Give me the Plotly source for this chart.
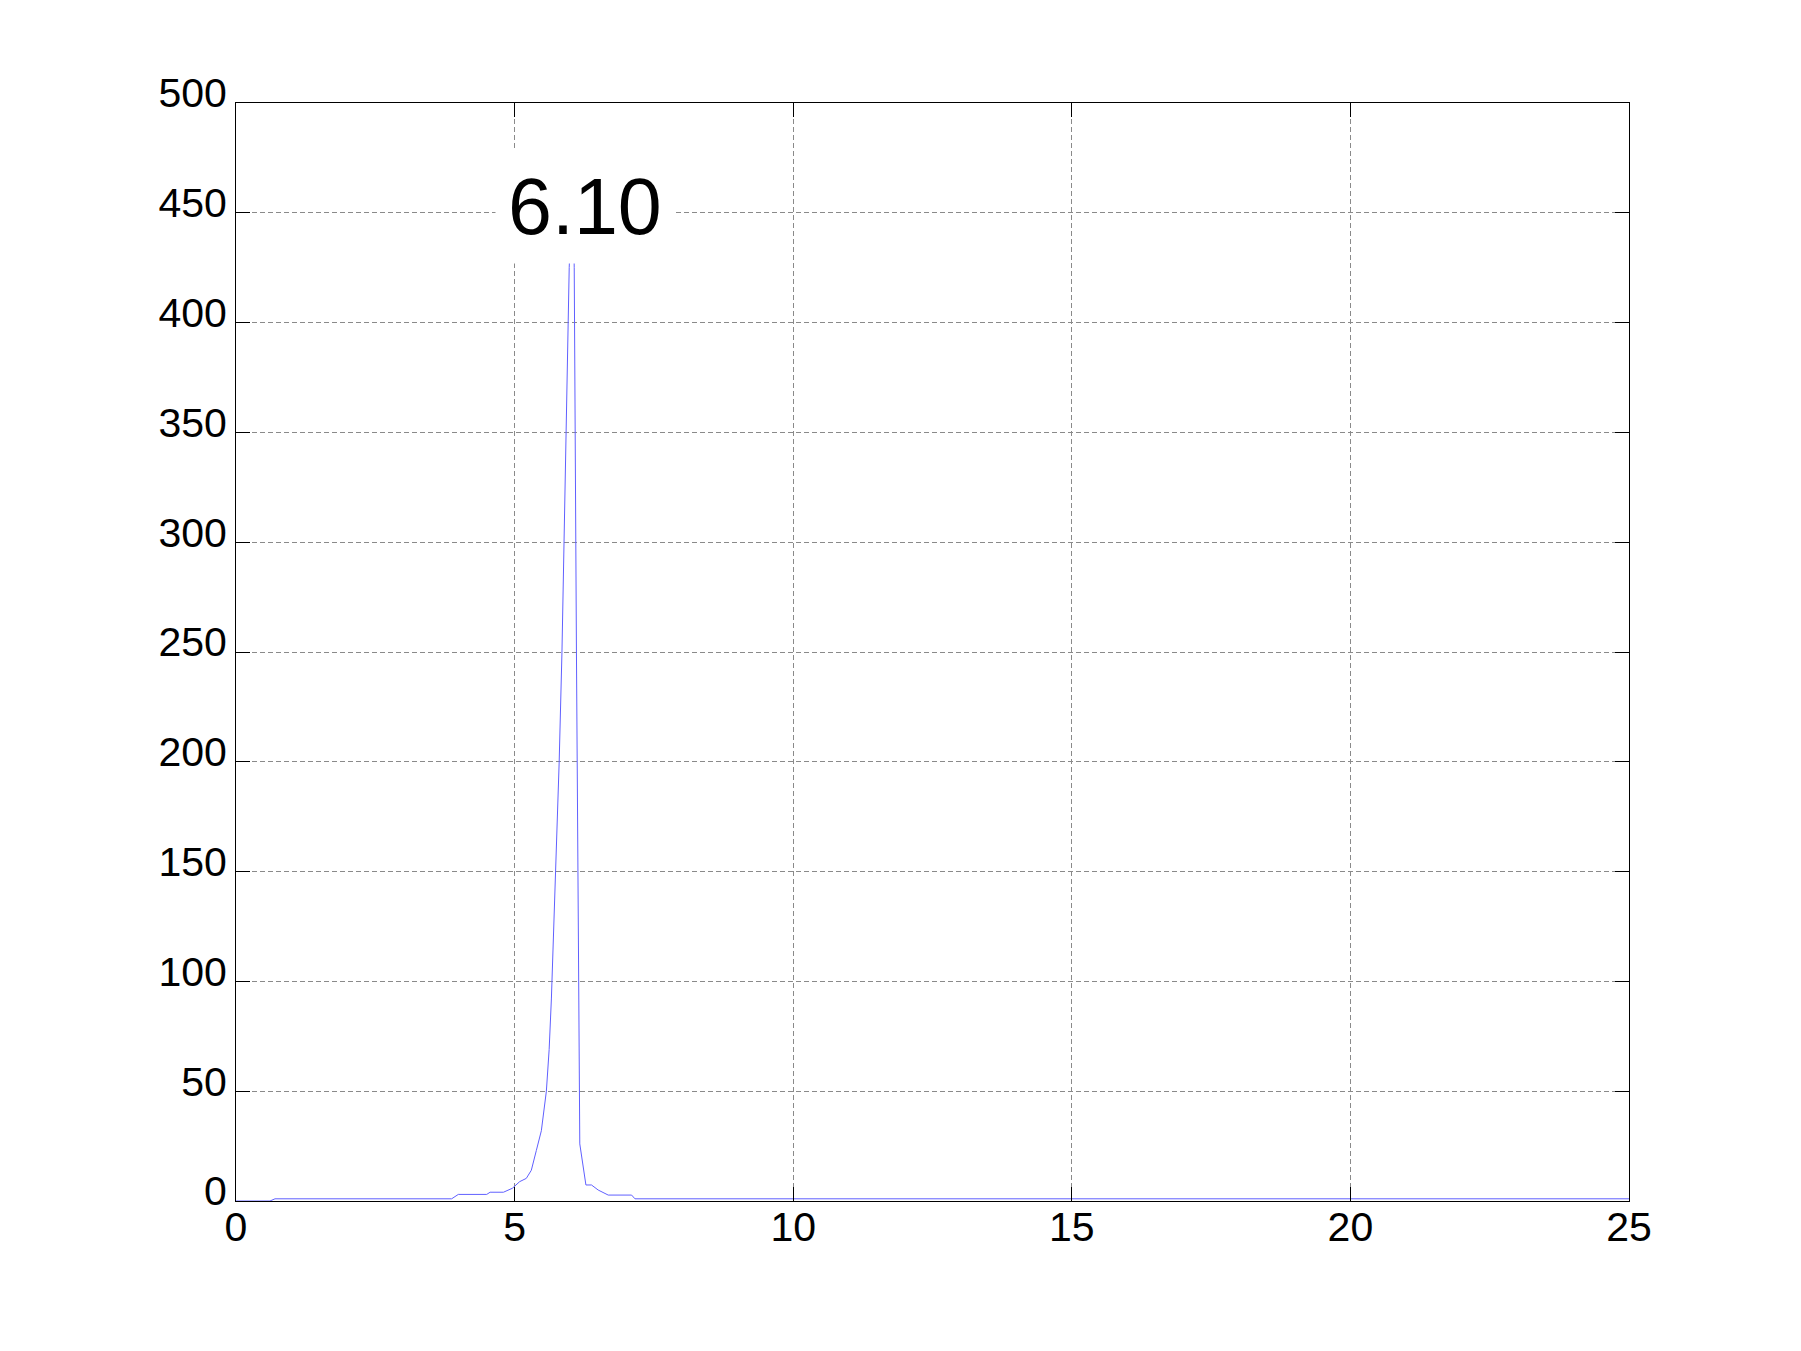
import plotly.graph_objects as go

# trace
x_vals = [0, 0.61, 0.70, 3.87, 3.99, 4.50, 4.56, 4.80, 4.96, 5.09, 5.21, 5.30,
          5.39, 5.48, 5.57, 5.62, 5.66, 5.74, 5.80, 5.85, 5.89, 5.93, 5.96, 5.98,
          6.04, 6.07, 6.11, 6.16, 6.17, 6.28, 6.38, 6.50, 6.68, 7.10, 7.16, 25]
y_vals = [0, 0, 1, 1, 3, 3, 4, 4, 5.8, 8.8, 10.3, 14,
          23, 32, 50, 69, 92, 151, 200, 250, 301, 351, 401, 425,
          470, 425, 250, 73, 26, 7.3, 7.3, 5, 2.7, 2.7, 1, 1]

label_text = "6.10"
label_x = 5
label_y = 450

font = "Liberation Sans, Arial, Helvetica, sans-serif"

fig = go.Figure()
fig.add_trace(go.Scatter(x=x_vals, y=y_vals, mode="lines",
                         line=dict(color="#6060ff", width=1), showlegend=False))

fig.add_annotation(x=label_x, y=label_y, text=label_text, showarrow=False,
                   xanchor="left", yanchor="middle", xshift=-20, yshift=6,
                   font=dict(size=79, color="black", family=font),
                   bgcolor="white", borderpad=12)

axis_common = dict(
    showline=True, linecolor="black", linewidth=1, mirror="allticks",
    ticks="inside", ticklen=14, tickcolor="black", tickwidth=1,
    showgrid=True, gridcolor="#8a8a8a", gridwidth=1, griddash="5px,3px",
    zeroline=False, tickfont=dict(size=41, color="black", family=font),
)

fig.update_xaxes(range=[0, 25], tickvals=[0, 5, 10, 15, 20, 25],
                 ticklabelstandoff=-10, **axis_common)
fig.update_yaxes(range=[0, 500], tickvals=list(range(0, 501, 50)),
                 ticklabelshift=-10, **axis_common)

fig.update_layout(
    width=1801, height=1351,
    margin=dict(l=228, r=180, t=95, b=158),
    paper_bgcolor="white", plot_bgcolor="white",
)

fig.write_html("out.html")
